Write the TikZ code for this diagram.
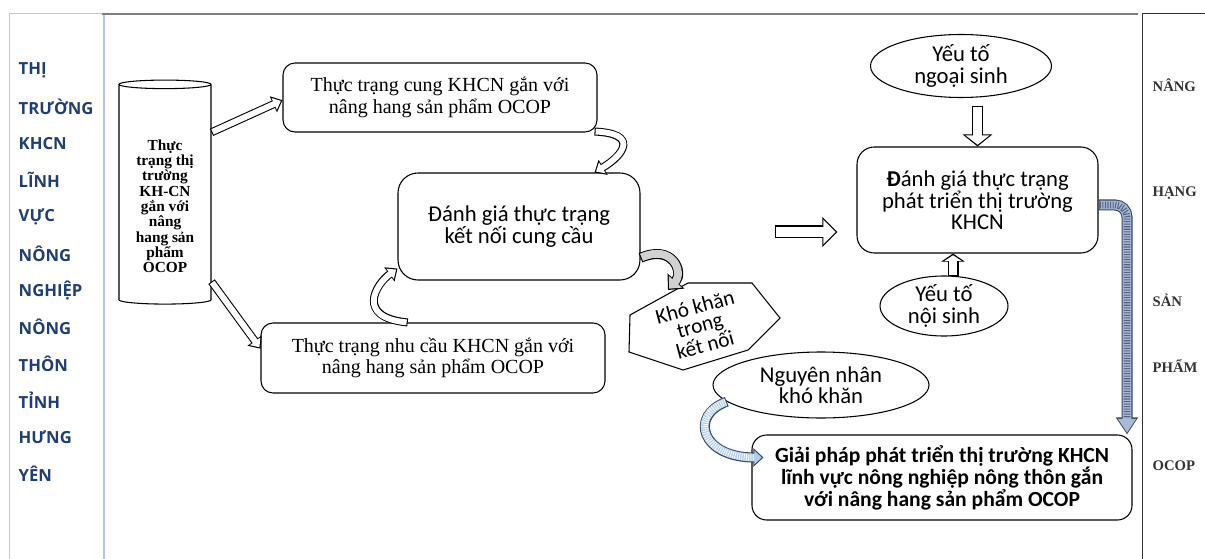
\documentclass[tikz,border=0pt]{standalone}
\usepackage{fontspec}
\setmainfont{Liberation Serif}
\newfontfamily\calib{Carlito}
\newfontfamily\opsans{Open Sans}
\usetikzlibrary{positioning,arrows.meta,shapes.geometric,calc}
\definecolor{hynavy}{HTML}{1F3F73}
\definecolor{hyframe}{HTML}{B4C7E7}
\definecolor{hygrey}{HTML}{7F7F7F}
\definecolor{hyband}{HTML}{34476A}
\definecolor{hyfill}{HTML}{A9B9D6}
\definecolor{hyhatch}{HTML}{9DC3E6}

\begin{document}
\begin{tikzpicture}[x=0.75pt, y=-0.75pt,
  sbox/.style={draw, line width=0.8pt, rounded corners=9pt, align=center, inner sep=2pt,
               font=\fontsize{15}{16}\selectfont},
  cbox/.style={draw, line width=0.8pt, rounded corners=13pt, align=center, inner sep=2pt,
               font=\calib\fontsize{17}{15.5}\selectfont},
  oval/.style={draw, ellipse, line width=0.8pt, align=center, inner sep=0pt,
               font=\calib\fontsize{17}{16}\selectfont},
  lword/.style={anchor=west, text=hynavy, font=\opsans\bfseries\fontsize{12.5}{13}\selectfont},
  rword/.style={anchor=west, text=black!80, font=\bfseries\fontsize{11}{12}\selectfont},
  blk/.style n args={8}{draw=#7, line width=#4, shorten >=1.3pt, shorten <=0.8pt,
               -{Triangle[length=#5, width=#6]},
               preaction={draw=#8, line width=#1, shorten >=0pt, shorten <=0pt,
                          -{Triangle[length=#2, width=#3]}}},
  slim/.style={blk={6pt}{7.5pt}{12.75pt}{4.4pt}{5.5pt}{9.3pt}{white}{black}},
  fat/.style={blk={8.25pt}{9pt}{21.75pt}{6.65pt}{7pt}{17.5pt}{white}{black}},
  stub/.style={blk={8.25pt}{6pt}{17.25pt}{6.65pt}{4.2pt}{12.5pt}{white}{black}},
  wide/.style={blk={9.75pt}{11.25pt}{21.75pt}{8.15pt}{9.3pt}{18pt}{white}{black}},
  grayarr/.style={blk={7.5pt}{9pt}{16.5pt}{5.9pt}{7pt}{12.8pt}{black!18}{black}},
  hatcharr/.style={blk={7.5pt}{7.5pt}{13.5pt}{5.9pt}{5.5pt}{9.9pt}{hyhatch!80}{hyband},
               postaction={draw=white, line width=5.2pt, dash pattern=on 0.6pt off 1.1pt,
                           shorten >=7pt, shorten <=1pt, arrows=-}},
  longarr/.style={blk={8.25pt}{12.75pt}{15.75pt}{6.65pt}{10.4pt}{12.9pt}{hyfill}{hyband},
               postaction={draw=hyband!85, line width=5pt, dash pattern=on 0.8pt off 1.1pt,
                           shorten >=12pt, shorten <=1pt, arrows=-}},
]
\useasboundingbox (0,0) rectangle (1205,559);

% frame lines
\draw[hyframe, line width=0.75pt] (102,14) -- (9,14) -- (9,559);
\draw[hyframe, line width=1.5pt] (104,14) -- (104,559);
\draw[hygrey, line width=1.1pt] (102,14) -- (1138,14);
\draw[black!80, line width=0.75pt] (1205,14) -- (1142,14) -- (1142,559);

% left column
\foreach \w [count=\i] in {THỊ, TRƯỜNG, KHCN, LĨNH, VỰC, NÔNG, NGHIỆP, NÔNG, THÔN, TỈNH, HƯNG, YÊN}
  \node[lword] (l\i) at (14, 33.3+36.7*\i) {\w};

% right column
\foreach \w/\yy [count=\i] in {NÂNG/85, HẠNG/193, SẢN/300, PHẨM/366, OCOP/466}
  \node[rword] (r\i) at (1148,\yy) {\w};

% status market
\node[cylinder, shape border rotate=90, draw, line width=0.8pt, shape aspect=0.14,
      minimum width=69pt, minimum height=168pt, align=center, inner sep=1pt,
      font=\bfseries\fontsize{11.5}{11.5}\selectfont] (cyl) at (165,195)
     {\rule{0pt}{25pt}Thực\\trạng thị\\trường\\KH-CN\\gắn với\\nâng\\hang sản\\phẩm\\OCOP};

% supply / link / demand
\node[sbox, minimum width=235.5pt, minimum height=51.75pt] (sup) at (440,97.5)
     {Thực trạng cung KHCN gắn với\\nâng hang sản phẩm OCOP};
\node[cbox, rounded corners=15pt, minimum width=181.5pt, minimum height=80.25pt] (kn) at (519,226.5)
     {Đánh giá thực trạng\\kết nối cung cầu};
\node[sbox, minimum width=258pt, minimum height=52.5pt] (dem) at (433,358)
     {Thực trạng nhu cầu KHCN gắn với\\nâng hang sản phẩm OCOP};

% difficulty
\draw[line width=0.8pt] (630,315) -- (688,283) -- (752,283) -- (780,318) -- (748,350)
     -- (683,370) -- (629,352) -- cycle;
\node[rotate=15, align=center, font=\calib\fontsize{16}{14}\selectfont] (diff) at (700,326)
     {Khó khăn\\trong\\kết nối};
\coordinate (diffin) at (668,290);

% cause / solution
\node[oval, fill=white, minimum width=162pt, minimum height=49.5pt] (cause) at (821,385)
     {Nguyên nhân\\khó khăn};
\node[cbox, rounded corners=11pt, font=\calib\bfseries\fontsize{16.2}{16}\selectfont,
      minimum width=285pt, minimum height=63.75pt] (sol) at (942,477.5)
     {Giải pháp phát triển thị trường KHCN\\lĩnh vực nông nghiệp nông thôn gắn\\với nâng hang sản phẩm OCOP};

% right block
\node[oval, minimum width=135.75pt, minimum height=47.25pt] (ext) at (961,66)
     {Yếu tố\\ngoại sinh};
\node[cbox, minimum width=180.75pt, minimum height=79.5pt] (eval) at (977.5,200)
     {{\bfseries Đ}ánh giá thực trạng\\phát triển thị trường\\KHCN};
\node[oval, minimum width=96pt, minimum height=45pt] (int) at (944,306)
     {Yếu tố\\nội sinh};

% connectors
\draw[slim] ([yshift=47pt]cyl.east) -- ([yshift=-2pt]sup.west);
\draw[slim] ([yshift=-65pt]cyl.east) -- ([yshift=7pt]dem.west);
\draw[slim] ($(sup.south east)+(-3,-1)$) .. controls +(44,2) and +(30,-18)
     .. ($(kn.north -| sup.south east)+(-3,0)$);
\draw[slim] ([xshift=-19pt]dem.north) .. controls +(-52,-5) and +(-22,16)
     .. ([yshift=9pt]kn.south west);
\draw[grayarr] ([yshift=-23.5pt]kn.east) .. controls +(32,-14) and +(16,-18) .. (diffin);
\draw[hatcharr] (cause.190) .. controls +(-38,14) and +(-62,0) .. ($(sol.west)+(12,-20)$);

\coordinate (lead) at (775,232);
\draw[wide] (lead) -- ($(lead -| eval.west)+(-19,0)$);
\draw[fat] ([yshift=-6pt]eval.north |- ext.south) -- (eval.north);
\draw[stub] ($(int.north)+(9,1)$) -- ($(int.north |- eval.south)+(9,0)$);

\coordinate (bend) at (1127,205);
\draw[longarr, rounded corners=9pt] (eval.east |- bend) -- (bend) -- (bend |- sol.north);
\end{tikzpicture}
\end{document}
